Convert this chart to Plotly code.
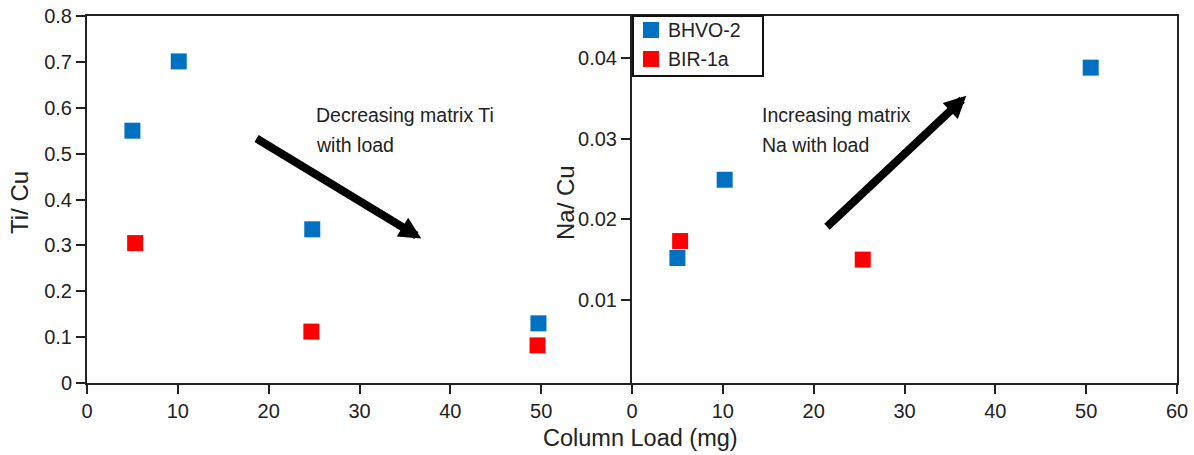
import plotly.graph_objects as go

# ---- data ----
ti_load_bhvo = [5.0, 10.1, 24.8, 49.7]
ti_bhvo = [0.550, 0.701, 0.335, 0.130]
ti_load_bir = [5.3, 24.7, 49.6]
ti_bir = [0.305, 0.112, 0.082]

na_load_bhvo = [5.0, 10.2, 50.5]
na_bhvo = [0.0152, 0.0249, 0.0388]
na_load_bir = [5.3, 25.4]
na_bir = [0.0173, 0.0150]

series_names = ["BHVO-2", "BIR-1a"]
left_xticks = [0, 10, 20, 30, 40, 50]
right_xticks = [0, 10, 20, 30, 40, 50, 60]
left_yticks = [0, 0.1, 0.2, 0.3, 0.4, 0.5, 0.6, 0.7, 0.8]
right_yticks = [0.01, 0.02, 0.03, 0.04]

BLUE = "#0070C0"
RED = "#FF0000"
FONT = "Liberation Sans, Arial, sans-serif"
INK = "#222222"

fig = go.Figure()
fig.add_trace(go.Scatter(x=ti_load_bhvo, y=ti_bhvo, mode="markers", name=series_names[0],
                         marker=dict(symbol="square", size=16, color=BLUE),
                         xaxis="x", yaxis="y"))
fig.add_trace(go.Scatter(x=ti_load_bir, y=ti_bir, mode="markers", name=series_names[1],
                         marker=dict(symbol="square", size=16, color=RED),
                         xaxis="x", yaxis="y"))
fig.add_trace(go.Scatter(x=na_load_bhvo, y=na_bhvo, mode="markers", name=series_names[0],
                         marker=dict(symbol="square", size=16, color=BLUE),
                         xaxis="x2", yaxis="y2"))
fig.add_trace(go.Scatter(x=na_load_bir, y=na_bir, mode="markers", name=series_names[1],
                         marker=dict(symbol="square", size=16, color=RED),
                         xaxis="x2", yaxis="y2"))

axis_common = dict(showline=True, linewidth=2, linecolor=INK, ticks="outside",
                   ticklen=9, tickwidth=2, tickcolor=INK, showgrid=False, zeroline=False,
                   automargin=False,
                   tickfont=dict(family=FONT, size=20, color=INK))

W, H = 1194, 455
ML, MR, MT, MB = 87, 17, 16, 72
PW, PH = W - ML - MR, H - MT - MB


def px_x(p):
    return (p - ML) / PW


def px_y(p):
    return (H - MB - p) / PH


fig.update_layout(
    width=W, height=H,
    margin=dict(l=ML, r=MR, t=MT, b=MB, pad=0),
    paper_bgcolor="white", plot_bgcolor="white",
    font=dict(family=FONT, color=INK),
    showlegend=False,
    xaxis=dict(domain=[0, 0.5], range=[0, 60], tickvals=left_xticks, anchor="y",
               mirror=True, **axis_common),
    yaxis=dict(domain=[0, 1], range=[0, 0.8], tickvals=left_yticks,
               ticktext=["0", "0.1", "0.2", "0.3", "0.4", "0.5", "0.6", "0.7", "0.8"],
               anchor="x", mirror=False, **axis_common),
    xaxis2=dict(domain=[0.5, 1], range=[0, 60], tickvals=right_xticks, anchor="y2",
                mirror=True, **axis_common),
    yaxis2=dict(domain=[0, 1], range=[-0.0003, 0.0452], tickvals=right_yticks,
                ticktext=["0.01", "0.02", "0.03", "0.04"], anchor="x2", mirror=True,
                **axis_common),
)

shapes = []
# legend box
shapes.append(dict(type="rect", xref="paper", yref="paper",
                   x0=px_x(633), x1=px_x(763), y0=px_y(76), y1=px_y(16),
                   line=dict(color="#111111", width=2), fillcolor="white", layer="above"))
annos = []
for i, (nm, col) in enumerate(zip(series_names, [BLUE, RED])):
    cy = 30 + 29 * i
    shapes.append(dict(type="rect", xref="paper", yref="paper",
                       x0=px_x(643), x1=px_x(659), y0=px_y(cy + 8), y1=px_y(cy - 8),
                       line=dict(width=0), fillcolor=col, layer="above"))
    annos.append(dict(text=nm, x=px_x(666), y=px_y(cy), xref="paper", yref="paper",
                      xanchor="left", yanchor="middle", showarrow=False,
                      font=dict(family=FONT, size=19.5, color=INK)))
fig.update_layout(shapes=shapes)

# arrows
annos.append(dict(x=36.8, y=0.315, ax=18.5, ay=0.535, xref="x", yref="y", axref="x", ayref="y",
                  showarrow=True, arrowhead=2, arrowsize=0.55, arrowwidth=8, arrowcolor="black",
                  text=""))
annos.append(dict(x=36.8, y=0.0353, ax=21.3, ay=0.0189, xref="x2", yref="y2", axref="x2", ayref="y2",
                  showarrow=True, arrowhead=2, arrowsize=0.55, arrowwidth=8, arrowcolor="black",
                  text=""))
# texts
for txt, x, y, xr, yr in [
    ("Decreasing matrix Ti", 25.0, 0.585, "x", "y"),
    ("with load", 25.0, 0.519, "x", "y"),
    ("Increasing matrix", 14.1, 0.0329, "x2", "y2"),
    ("Na with load", 14.1, 0.0292, "x2", "y2"),
]:
    annos.append(dict(text=txt, x=x, y=y, xref=xr, yref=yr, xanchor="left", yanchor="middle",
                      showarrow=False, font=dict(family=FONT, size=19.5, color=INK)))
# axis titles
annos.append(dict(text="Column Load (mg)", x=0.508, y=-0.15, xref="paper", yref="paper",
                  xanchor="center", yanchor="middle", showarrow=False,
                  font=dict(family=FONT, size=23.5, color=INK)))
annos.append(dict(text="Ti/ Cu", x=-0.0624, y=0.493, xref="paper", yref="paper", textangle=-90,
                  xanchor="center", yanchor="middle", showarrow=False,
                  font=dict(family=FONT, size=24, color=INK)))
annos.append(dict(text="Na/ Cu", x=0.4385, y=0.493, xref="paper", yref="paper", textangle=-90,
                  xanchor="center", yanchor="middle", showarrow=False,
                  font=dict(family=FONT, size=24, color=INK)))
fig.update_layout(annotations=annos)

fig.write_html("out.html")
